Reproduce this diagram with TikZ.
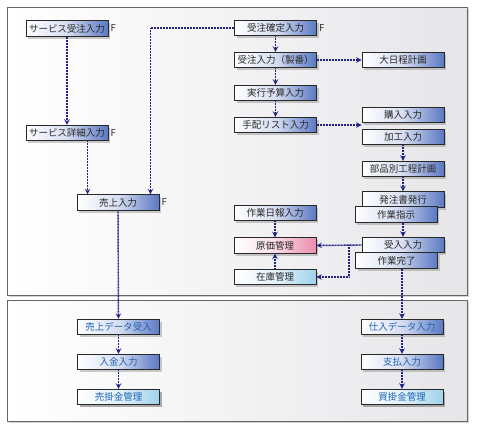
\documentclass[tikz,border=0pt]{standalone}
\usepackage{fontspec}
\setmainfont{Noto Sans CJK JP}
\usepackage{xcolor}
\usepackage{tikz}
\usetikzlibrary{calc}
\usetikzlibrary{shadows}
\definecolor{boxblue}{RGB}{90,120,195}
\definecolor{boxpink}{RGB}{235,140,175}
\definecolor{boxcyan}{RGB}{160,210,235}
\definecolor{flowblue}{RGB}{35,35,135}
\definecolor{textblue}{RGB}{30,100,180}
\definecolor{textgray}{RGB}{40,40,40}
\definecolor{panelgray}{RGB}{230,230,233}

\begin{document}
\begin{tikzpicture}[x=1pt, y=-1pt, >=stealth,
  task/.style={rectangle, draw=textgray, line width=0.9pt, left color=white, right color=boxblue, middle color=white!75!boxblue,
    minimum width=82pt, minimum height=15.5pt, inner sep=0pt, text=textgray,
    font=\fontsize{9.5}{10}\selectfont, drop shadow={shadow xshift=2pt, shadow yshift=-2.5pt, opacity=0.4}},
  costbox/.style={task, right color=boxpink, middle color=white!70!boxpink},
  stockbox/.style={task, right color=boxcyan, middle color=white!70!boxcyan},
  acctbox/.style={task, text=textblue},
  panel/.style={rectangle, draw=gray!80!black, line width=1pt, left color=white, right color=panelgray,
    drop shadow={shadow xshift=2pt, shadow yshift=-2pt, opacity=0.35}},
  flag/.style={right, inner sep=2pt, text=textgray, font=\fontsize{9.5}{10}\selectfont},
  flow/.style={->, flowblue, line width=1.4pt, dash pattern=on 1pt off 0.5pt}]

  \useasboundingbox (0,0) rectangle (480,434);

  % panels
  \draw[panel] (7,7) rectangle (467,295);
  \draw[panel] (7,300) rectangle (467,421);

  % service side
  \node[task] (svcorder) at (67,28.5) {サービス受注入力};
  \node[task] (svcdetail) at (67,133) {サービス詳細入力};
  \node[task] (sales) at (118,202.5) {売上入力};

  % order side
  \node[task] (ordfix) at (275.5,28) {受注確定入力};
  \node[task] (orderin) at (275.5,60) {受注入力（製番）};
  \node[task] (budget) at (275.5,93) {実行予算入力};
  \node[task] (arrange) at (275.5,125) {手配リスト入力};
  \node[task] (schedule) at (403,60) {大日程計画};
  \node[task] (purchase) at (403,115) {購入入力};
  \node[task] (process) at (403,137) {加工入力};
  \node[task] (partplan) at (403,169) {部品別工程計画};
  \node[task] (porder) at (403,199.5) {発注書発行};
  \node[task] (workinst) at (396,214.5) {作業指示};
  \node[task] (receive) at (403,245) {受入入力};
  \node[task] (workdone) at (396.5,260.5) {作業完了};

  % cost side
  \node[task] (workrep) at (275,213) {作業日報入力};
  \node[costbox] (cost) at (275,245.5) {原価管理};
  \node[stockbox] (stock) at (275,277) {在庫管理};

  % accounting
  \node[acctbox] (salesdata) at (118.5,327) {売上データ受入};
  \node[acctbox] (payin) at (118.5,362) {入金入力};
  \node[acctbox, stockbox] (receivable) at (118.5,397) {\textcolor{textblue}{売掛金管理}};
  \node[acctbox] (purchdata) at (402,327) {仕入データ入力};
  \node[acctbox] (payout) at (402,362) {支払入力};
  \node[acctbox, stockbox] (payable) at (402,397) {\textcolor{textblue}{買掛金管理}};

  % F marks
  \node[flag] at (svcorder.east) {F};
  \node[flag] at (svcdetail.east) {F};
  \node[flag] at (sales.east) {F};
  \node[flag] at (ordfix.east) {F};

  % helper points
  \coordinate (salesleft) at ([xshift=11pt]sales.north west);
  \coordinate (salesright) at ([xshift=-9pt]sales.north east);
  \coordinate (split) at (349,245);

  \draw[flow] (svcorder) -- (svcdetail);
  \draw[flow] (salesleft |- svcdetail.south) -- (salesleft);
  \draw[flow] (ordfix.west) -| (salesright);
  \draw[flow] (ordfix) -- (orderin);
  \draw[flow] (orderin) -- (budget);
  \draw[flow] (budget) -- (arrange);
  \draw[flow] (orderin) -- (schedule);
  \draw[flow] (arrange.east) -- (arrange.east -| purchase.west);
  \draw[flow] (purchase.south |- process.south) -- (partplan.north);
  \draw[flow] (partplan) -- (porder);
  \draw[flow] (receive.north |- workinst.south) -- (receive.north);
  \draw[flow] (workrep) -- (cost);
  \draw[flow] (stock) -- (cost);
  \draw[flow] (receive.west) -- (cost.east);
  \draw[flow] (split) |- (stock.east);
  \draw[flow] (sales) -- (salesdata);
  \draw[flow] (salesdata) -- (payin);
  \draw[flow] (payin) -- (receivable);
  \draw[flow] (purchdata.north |- workdone.south) -- (purchdata.north);
  \draw[flow] (purchdata) -- (payout);
  \draw[flow] (payout) -- (payable);
\end{tikzpicture}
\end{document}
